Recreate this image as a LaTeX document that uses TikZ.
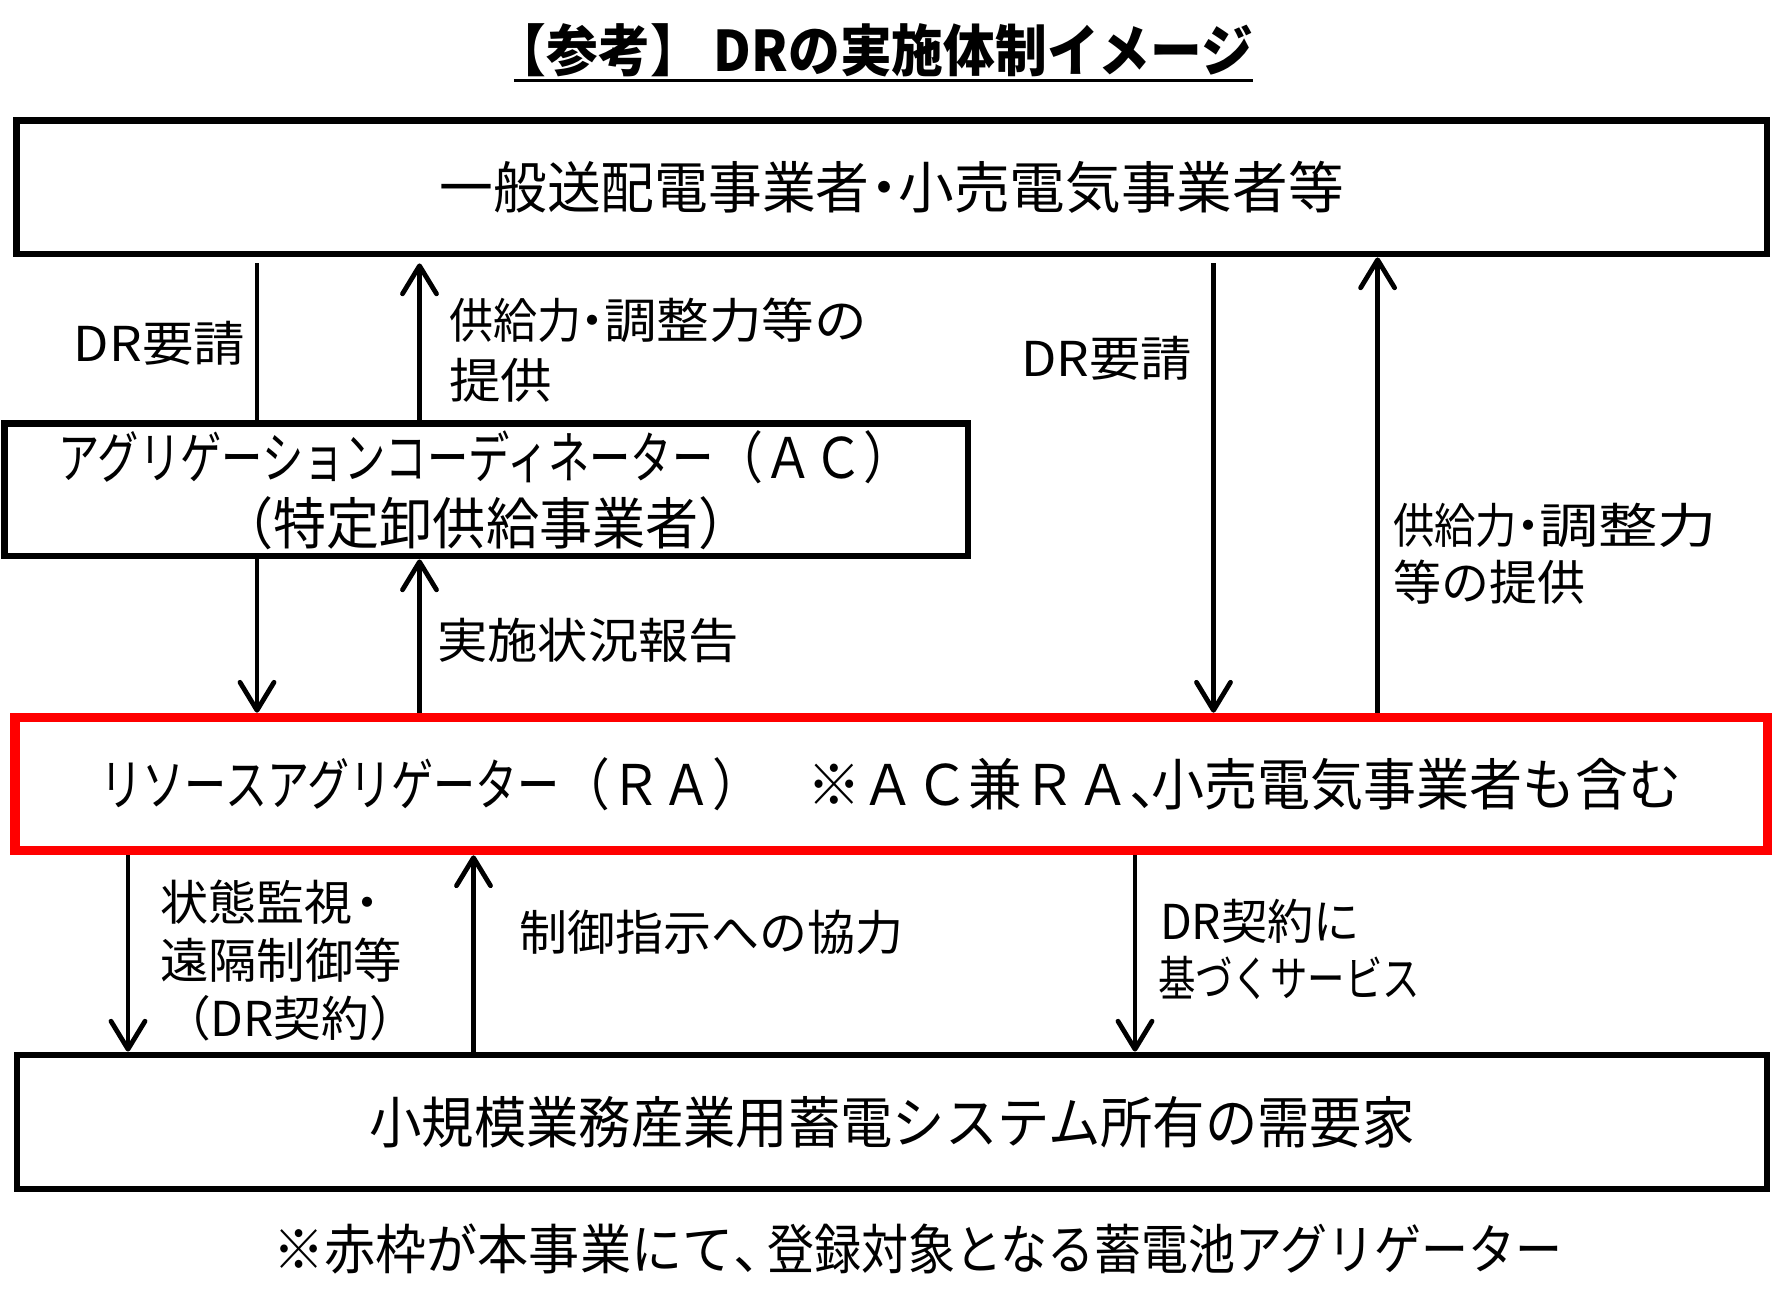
\documentclass[tikz,border=0pt]{standalone}
\usepackage{fontspec}
\setmainfont{Noto Sans CJK JP}
\usetikzlibrary{arrows.meta}
\newdimen\upx \upx=0.5pt
\newcommand\fw[2]{\resizebox{#1\upx}{\height}{#2}}
\newcommand\dotbox[2]{\makebox[#1\upx][c]{#2}}
\newcommand\leftbox[2]{\makebox[#1\upx][l]{#2}}
\definecolor{frame}{RGB}{0,0,0}
\definecolor{rared}{RGB}{255,0,0}
\begin{document}
\begin{tikzpicture}[x=0.5pt,y=-0.5pt,
  box/.style={draw=frame,line width=3.4pt,fill=white,inner sep=0pt,align=center,font=\fontsize{28}{35}\selectfont},
  rabox/.style={box,draw=rared,line width=4.8pt},
  lbl/.style={inner sep=0pt,outer sep=0pt,anchor=west,font=\fontsize{24}{29}\selectfont},
  conn/.style={line width=2.4pt,draw=black},
  arr/.style={conn,-{Straight Barb[length=14pt,width=17pt,round]}}]
\useasboundingbox (0,0) rectangle (1778,1312);

% title
\node[inner sep=0pt,outer sep=0pt,font=\fontsize{28}{32}\selectfont\bfseries] (title) at (874,50) {\fw{758}{【参考】 DRの実施体制イメージ}};
\draw[line width=1.5pt] ([xshift=9.5pt,yshift=-2pt]title.south west) -- ([yshift=-2pt]title.south east);

% boxes
\node[box,minimum width=875.35pt,minimum height=66.75pt] (top) at (891.7,187.25)
  {\fw{430}{一般送配電事業者}\dotbox{29}{・}\fw{445}{小売電気事業者等}};
\node[box,minimum width=481.9pt,minimum height=66.25pt] (ac) at (486,489.75)
  {\fw{655}{アグリゲーションコーディネーター}\fw{200}{（ＡＣ）}\\[-2pt]\fw{531}{（特定卸供給事業者）}};
\node[rabox,minimum width=876.25pt,minimum height=66.5pt] (ra) at (891.25,784)
  {\fw{459}{リソースアグリゲーター}\fw{203}{（ＲＡ）}\leftbox{45}{　}\fw{322}{※ＡＣ兼ＲＡ}\leftbox{22}{、}\fw{530}{小売電気事業者も含む}};
\node[box,minimum width=875pt,minimum height=67pt] (dem) at (892,1122) {\fw{1045}{小規模業務産業用蓄電システム所有の需要家}};

% x positions of connectors
\coordinate (xa) at (257,0);
\coordinate (xb) at (419.5,0);
\coordinate (xc) at (1213.5,0);
\coordinate (xd) at (1377.6,0);
\coordinate (xe) at (128,0);
\coordinate (xf) at (473.5,0);
\coordinate (xg) at (1135,0);

% connectors
\draw[conn,shorten <=3pt] (top.south -| xa) -- (ac.north -| xa);
\draw[arr,shorten >=3pt] (ac.north -| xb) -- (top.south -| xb);
\draw[arr] (ac.south -| xa) -- (ra.north -| xa);
\draw[arr] (ra.north -| xb) -- (ac.south -| xb);
\draw[arr,shorten <=3pt] (top.south -| xc) -- (ra.north -| xc);
\draw[arr] (ra.north -| xd) -- (top.south -| xd);
\draw[arr] (ra.south -| xe) -- (dem.north -| xe);
\draw[arr] (dem.north -| xf) -- (ra.south -| xf);
\draw[arr] (ra.south -| xg) -- (dem.north -| xg);

% labels
\node[lbl] (lDRa) at (74,343) {\fw{171}{DR要請}};
\node[lbl] (lSup1) at (449,320) {\fw{132}{供給力}\dotbox{23}{・}\fw{263}{調整力等の}};
\node[lbl] (lSup2) at (449,380) {\fw{103}{提供}};
\node[lbl] (lRep) at (437,640) {\fw{302}{実施状況報告}};
\node[lbl] (lDRb) at (1021,358) {\fw{171}{DR要請}};
\node[lbl] (lSup3) at (1393,525) {\fw{124}{供給力}\dotbox{22}{・}\fw{178}{調整力}};
\node[lbl] (lSup4) at (1393,582) {\fw{192}{等の提供}};
\node[lbl] (lMon1) at (160,902) {\fw{192}{状態監視}\dotbox{30}{・}};
\node[lbl] (lMon2) at (160,960) {\fw{242}{遠隔制御等}};
\node[lbl] (lMon3) at (163,1018) {\fw{254}{（DR契約）}};
\node[lbl] (lCtl) at (519,932.5) {\fw{384}{制御指示への協力}};
\node[lbl] (lSvc1) at (1160,921.5) {\fw{200}{DR契約に}};
\node[lbl] (lSvc2) at (1158,978) {\fw{262}{基づくサービス}};

% footer
\node[inner sep=0pt,anchor=west,font=\fontsize{27}{30}\selectfont] (foot) at (273,1249)
  {\fw{460}{※赤枠が本事業にて}\leftbox{34}{、}\fw{795}{登録対象となる蓄電池アグリゲーター}};
\end{tikzpicture}
\end{document}
